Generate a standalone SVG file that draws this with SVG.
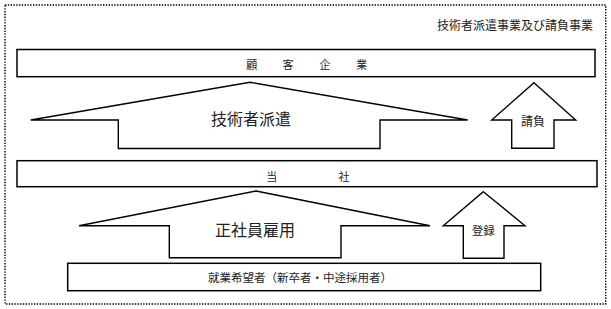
<svg xmlns="http://www.w3.org/2000/svg" width="611" height="309" viewBox="0 0 611 309">
<style>
.box{fill:#fff;stroke:#000;stroke-width:1.5}
.arr{fill:#fff;stroke:#000;stroke-width:1.4;stroke-linejoin:miter}
.frame{fill:none;stroke:#000;stroke-width:1.4;stroke-dasharray:1.4 1.4}
text{font-family:"Noto Sans CJK JP","Noto Sans CJK SC",sans-serif;fill:#222;text-anchor:middle}
.s11{font-size:11px}
.s12{font-size:12px}
.s16{font-size:16px}
</style>
<rect id="frame" class="frame" x="5" y="5" width="600.7" height="299"/>
<g id="title"><text class="s12" x="593" y="29.6" style="text-anchor:end">技術者派遣事業及び請負事業</text></g>
<g id="client">
<rect class="box" x="17" y="49.5" width="578" height="27.2"/>
<text class="s11" x="251.7" y="69.2">顧</text>
<text class="s11" x="288" y="69.2">客</text>
<text class="s11" x="325" y="69.2">企</text>
<text class="s11" x="361.7" y="69.2">業</text>
</g>
<g id="company">
<rect class="box" x="17" y="160.7" width="580" height="26"/>
<text class="s11" x="271.7" y="180.9">当</text>
<text class="s11" x="344" y="180.9">社</text>
</g>
<g id="applicants">
<rect class="box" x="67.7" y="263.3" width="473" height="27.4"/>
<text class="s11" x="300" y="282" style="font-size:11.5px">就業希望者（新卒者・中途採用者）</text>
</g>
<g id="connectors">
<g id="dispatch">
<polygon class="arr" points="250,82.3 467.7,120 380,120 380,148.5 118.3,148.5 118.3,120 30.7,120"/>
<text class="s16" x="251" y="125">技術者派遣</text>
</g>
<g id="contract">
<polygon class="arr" points="534,82.7 575.7,120 554,120 554,148.3 511.7,148.3 511.7,120 491.7,120"/>
<text class="s12" x="533" y="126.3">請負</text>
</g>
<g id="employ">
<polygon class="arr" points="256,191 430,225.7 341,225.7 341,257.7 169.3,257.7 169.3,225.7 79,225.7"/>
<text class="s16" x="255" y="236">正社員雇用</text>
</g>
<g id="register">
<polygon class="arr" points="483.3,191.7 525,225.7 504,225.7 504,258.3 463.3,258.3 463.3,225.7 443.3,225.7"/>
<text class="s12" x="483.3" y="234.6" style="font-size:11.5px">登録</text>
</g>
</g>
</svg>
